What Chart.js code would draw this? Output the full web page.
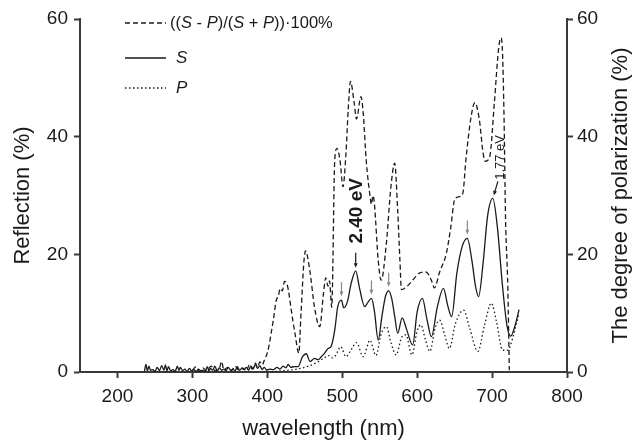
<!DOCTYPE html>
<html>
<head>
<meta charset="utf-8">
<script src="https://cdn.jsdelivr.net/npm/chart.js@4/dist/chart.umd.min.js"></script>
<style>
  html, body { margin: 0; padding: 0; background: #fff; }
</style>
</head>
<body>
<canvas id="myChart" width="634" height="440"></canvas>
<script>
// tick labels
const xTicks = [200, 300, 400, 500, 600, 700, 800];
const yTicks = [0, 20, 40, 60];

// S reflection (solid)
const sWl = [236,238,240,242,244,247,250,253,256,259,262,264,266,268,271,274,277,280,282,284,287,290,293,296,299,302,305,308,311,314,317,320,322,324,327,330,333,336,339,342,345,348,351,354,357,360,363,366,369,372,375,378,381,384,387,390,393,396,399,
  403,408,413,417,421,425,428,431,436,441,447,452,457,463,468,472,477,481,485,490,494,499,502,507,512,518,523,530,534,539,543,548,553,558,562,566,570,574,580,586,594,600,607,613,619,627,635,641,646,653,660,667,673,678,682,688,694,701,707,714,720,725,730,736];
const sVal = [0.1,1.3,0.2,1.0,0.3,0.4,0.1,0.8,0.2,1.1,0.3,1.2,0.2,0.9,0.2,0.4,0.1,1.0,0.3,0.8,0.2,0.5,0.1,0.6,0.2,0.4,0.1,0.5,0.2,0.3,0.1,0.9,0.2,0.6,0.3,1.0,0.2,0.7,0.3,0.5,0.2,0.8,0.3,0.5,0.2,0.9,0.3,0.6,0.4,0.8,0.3,1.0,0.5,1.3,0.6,1.1,0.4,0.8,0.3,
  0.5,0.4,0.8,0.5,1.0,0.7,1.3,0.8,0.9,0.9,2.6,3.1,1.8,2.3,2.1,2.6,3.3,4.0,4.3,7.1,11.1,12.2,10.9,12.0,15.1,17.2,14.3,11.1,11.8,12.5,10.3,5.4,9.5,13.0,13.8,12.5,9.5,6.6,9.2,7.2,4.6,10.2,12.5,9.0,6.0,11.1,14.2,11.2,9.4,16.8,21.3,22.7,19.0,14.5,12.8,18.5,26.5,29.5,24.7,14.5,7.8,6.1,7.6,10.6];

// P reflection (dotted)
const pWl = [400,420,440,455,466,476,482,487,491,498,505,512,519,528,537,545,552,559,565,572,579,585,593,600,605,611,617,624,630,637,643,651,662,670,681,690,699,706,714,721,728,736];
const pVal = [0,0.2,0.5,1.0,1.6,2.4,2.8,2.4,2.8,4.3,2.6,3.8,5.0,2.6,5.4,2.8,6.5,7.7,5.0,2.9,5.8,6.3,2.9,7.0,8.0,5.5,3.5,7.5,8.8,6.2,4.0,8.2,10.5,7.5,3.5,8.0,11.7,8.5,3.7,3.7,6.0,10.0];

// degree of polarization (dashed, right axis)
const polWl = [300,305,309,314,319,325,331,336,339,342,347,352,357,362,367,372,376,380,384,387,390,393,396,401,405,408,412,415,417,420,423,426,428,432,437,442,445,449,451,457,463,470,475,478,481,483,486,490,493,497,501,505,508,511,516,519,525,528,532,537,539,541,543,548,552,559,565,570,574,577,579,586,594,603,612,619,623,630,639,645,650,656,661,665,672,677,683,688,691,697,703,709,712,714,716,718,721,723];
const polVal = [0.3,0.9,0.1,0.7,0.2,1.0,0.2,0.6,1.8,0.3,0.8,0.2,1.0,0.3,0.7,0.2,1.2,0.5,1.5,0.8,1.7,1.2,2.0,3.7,6.5,8.8,12.2,13.0,14.2,13.8,15.4,15.0,14.0,10.5,6.5,3.2,10.0,19.0,20.6,17.0,11.0,7.7,13.4,16.0,14.6,15.5,11.0,36.0,38.0,36.0,31.5,37.2,44.6,49.4,45.7,43.0,46.8,44.0,36.0,30.0,28.5,30.0,28.5,19.0,15.6,22.0,31.5,35.5,27.5,19.0,14.0,14.5,15.6,16.8,17.0,15.6,14.3,17.0,20.2,24.7,29.3,29.8,30.4,36.0,43.4,45.8,42.9,37.2,35.8,36.7,45.7,55.3,56.8,54.0,43.0,26.0,14.5,0.3];

// marked peaks on S
const grayArrowNm = [499, 539, 562, 667];
const grayArrowVal = [12.2, 12.5, 13.8, 22.7];
const bigPeakNm = 518, bigPeakVal = 17.2, bigPeakLabel = "2.40 eV";
const redPeakNm = 701, redPeakVal = 29.5, redPeakLabel = "1.77 eV";

const xTitle = "wavelength (nm)";
const yTitle = "Reflection (%)";
const y2Title = "The degree of polarization (%)";

const FONT = '"Liberation Sans", Arial, Helvetica, sans-serif';
const INK = "#1a1a1a";
const AXIS = "#3a3a3a";

function pairs(xs, ys) {
  return xs.map((x, i) => ({ x: x, y: ys[i] }));
}

function rotText(ctx, text, x, y) {
  ctx.save();
  ctx.translate(x, y);
  ctx.rotate(-Math.PI / 2);
  ctx.fillText(text, 0, 0);
  ctx.restore();
}

function arrow(ctx, x1, y1, x2, y2, color) {
  const a = Math.atan2(y2 - y1, x2 - x1), h = 5;
  ctx.strokeStyle = color; ctx.fillStyle = color; ctx.lineWidth = 1.2;
  ctx.setLineDash([]);
  ctx.beginPath(); ctx.moveTo(x1, y1); ctx.lineTo(x2 - Math.cos(a) * h * 0.8, y2 - Math.sin(a) * h * 0.8); ctx.stroke();
  ctx.beginPath();
  ctx.moveTo(x2, y2);
  ctx.lineTo(x2 - h * Math.cos(a - 0.4), y2 - h * Math.sin(a - 0.4));
  ctx.lineTo(x2 - h * Math.cos(a + 0.4), y2 - h * Math.sin(a + 0.4));
  ctx.closePath(); ctx.fill();
}

// text with italic pieces
function richText(ctx, parts, x, y, size) {
  parts.forEach(([t, it]) => {
    ctx.font = (it ? "italic " : "") + size + "px " + FONT;
    ctx.fillText(t, x, y);
    x += ctx.measureText(t).width;
  });
}

const annotations = {
  id: "annotations",
  afterDraw(chart) {
    const ctx = chart.ctx, xs = chart.scales.x, ys = chart.scales.y;
    ctx.save();
    ctx.fillStyle = INK;

    // axis titles
    ctx.font = "22px " + FONT;
    ctx.textAlign = "center"; ctx.textBaseline = "middle";
    ctx.fillText(xTitle, (xs.left + xs.right) / 2, 429);
    rotText(ctx, yTitle, 23, (ys.top + ys.bottom) / 2);
    rotText(ctx, y2Title, 621, (ys.top + ys.bottom) / 2);

    // legend
    ctx.lineWidth = 1.3; ctx.strokeStyle = INK;
    const rows = [[23, [5, 3]], [58, []], [88, [1.5, 2.5]]];
    rows.forEach(([ly, dash]) => {
      ctx.setLineDash(dash);
      ctx.beginPath(); ctx.moveTo(125, ly); ctx.lineTo(166, ly); ctx.stroke();
    });
    ctx.setLineDash([]);
    ctx.textAlign = "left";
    richText(ctx, [["((", 0], ["S", 1], [" - ", 0], ["P", 1], [")/(", 0], ["S", 1], [" + ", 0], ["P", 1], ["))", 0], ["\u00b7", 0], ["100%", 0]], 170, 23, 16.5);
    richText(ctx, [["S", 1]], 176, 58, 17);
    richText(ctx, [["P", 1]], 176, 88, 17);

    // gray arrows on S peaks
    grayArrowNm.forEach((nm, i) => {
      const px = xs.getPixelForValue(nm), py = ys.getPixelForValue(grayArrowVal[i]);
      arrow(ctx, px, py - 18, px, py - 4, "#888");
    });

    // 2.40 eV
    let px = xs.getPixelForValue(bigPeakNm), py = ys.getPixelForValue(bigPeakVal);
    arrow(ctx, px, py - 18, px, py - 3, INK);
    ctx.fillStyle = INK;
    ctx.font = "bold 19px " + FONT;
    ctx.textAlign = "center";
    rotText(ctx, bigPeakLabel, px + 1, py - 60);

    // 1.77 eV
    px = xs.getPixelForValue(redPeakNm); py = ys.getPixelForValue(redPeakVal);
    arrow(ctx, px + 5, py - 17, px + 1, py - 3, INK);
    ctx.fillStyle = INK;
    ctx.font = "13px " + FONT;
    rotText(ctx, redPeakLabel, px + 8, py - 41);

    ctx.restore();
  }
};

function axisY(position, width, pad) {
  return {
    type: "linear", position: position, min: 0, max: 60,
    afterBuildTicks: s => { s.ticks = yTicks.map(v => ({ value: v })); },
    afterFit: s => { s.width = width; },
    ticks: { color: INK, font: { size: 19, family: FONT }, padding: pad },
    grid: { drawOnChartArea: false, tickLength: 6, tickColor: AXIS, tickWidth: 2 },
    border: { display: true, color: AXIS, width: 2 }
  };
}

const ctx = document.getElementById("myChart").getContext("2d");
const chart = new Chart(ctx, {
  type: "line",
  data: {
    datasets: [
      { label: "S", data: pairs(sWl, sVal), yAxisID: "y", borderColor: INK, borderWidth: 1.3, pointRadius: 0, cubicInterpolationMode: "monotone" },
      { label: "P", data: pairs(pWl, pVal), yAxisID: "y", borderColor: INK, borderWidth: 1.3, borderDash: [1.5, 2.5], pointRadius: 0, cubicInterpolationMode: "monotone" },
      { label: "((S - P)/(S + P))·100%", data: pairs(polWl, polVal), yAxisID: "y2", borderColor: INK, borderWidth: 1.3, borderDash: [5, 3], pointRadius: 0, cubicInterpolationMode: "monotone" }
    ]
  },
  options: {
    responsive: false,
    animation: false,
    devicePixelRatio: 1,
    layout: { padding: { top: 19, left: 0, right: 0, bottom: 0 } },
    plugins: { legend: { display: false }, tooltip: { enabled: false } },
    scales: {
      x: {
        type: "linear", position: "bottom", min: 150, max: 800,
        afterBuildTicks: s => { s.ticks = xTicks.map(v => ({ value: v })); },
        afterFit: s => { s.height = 68; },
        ticks: { color: INK, font: { size: 19, family: FONT }, padding: 7, maxRotation: 0 },
        grid: { drawOnChartArea: false, tickLength: 6, tickColor: AXIS, tickWidth: 2 },
        border: { display: true, color: AXIS, width: 2 }
      },
      y: axisY("left", 80, 6),
      y2: axisY("right", 67, 4)
    }
  },
  plugins: [annotations]
});
</script>
</body>
</html>
